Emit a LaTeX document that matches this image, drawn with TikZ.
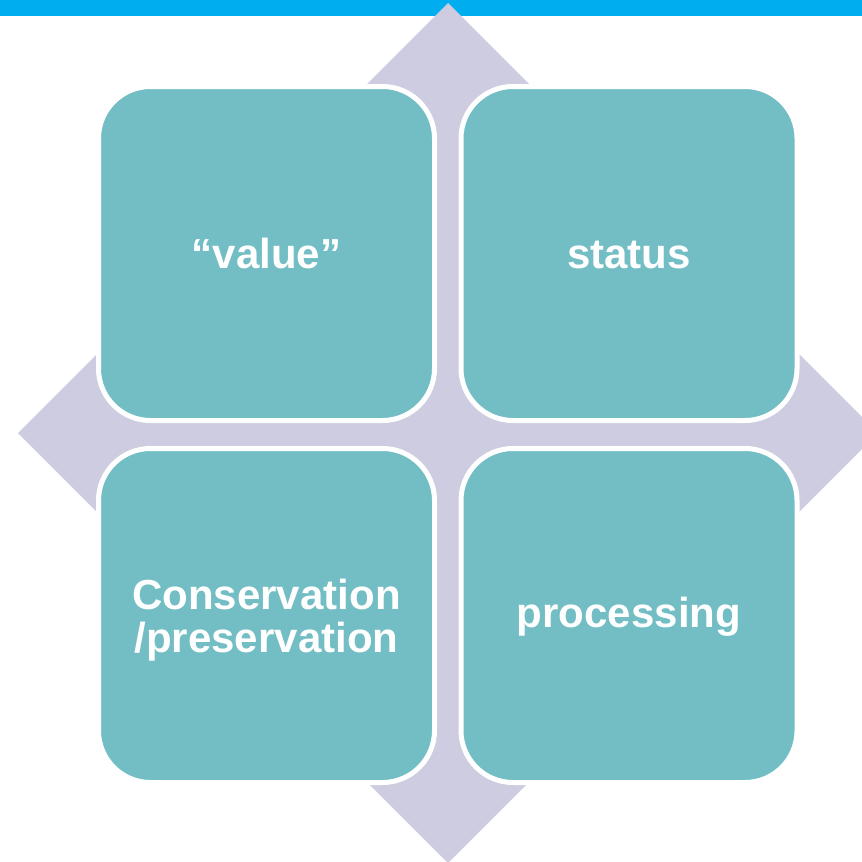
\documentclass[tikz,border=0pt]{standalone}
\usepackage{fontspec}
\setmainfont{Liberation Sans}
\definecolor{topbar}{HTML}{00ADEF}
\definecolor{lav}{HTML}{CDCCE0}
\definecolor{teal}{HTML}{72BEC4}
\tikzset{
  tile/.style={draw=white, line width=5pt, fill=teal, rounded corners=52pt,
    minimum width=336pt, minimum height=334pt, inner sep=0pt},
  lbl/.style={text=white, font=\fontsize{42}{36}\selectfont\bfseries, anchor=base, inner sep=0pt}
}
\begin{document}
\begin{tikzpicture}[x=1pt,y=-1pt]
\useasboundingbox (0,0) rectangle (862,862);
\fill[topbar] (0,0) rectangle (862,16);
\fill[lav] (448,3) -- (18,433) -- (448,863) -- (878,433) -- cycle;
\node[tile] (tl) at (266.5,253.5) {};
\node[tile] (tr) at (629,253.5) {};
\node[tile] (bl) at (266.5,615.5) {};
\node[tile] (br) at (629,615.5) {};
\node[lbl] (tlt) at (266.5,268) {“value”};
\node[lbl] (trt) at (629,268.5) {status};
\node[lbl] (blt1) at (266.5,609) {Conservation};
\node[lbl] (blt2) at (266.5,652.5) {/preservation};
\node[lbl] (brt) at (629,627.5) {processing};
\end{tikzpicture}
\end{document}
